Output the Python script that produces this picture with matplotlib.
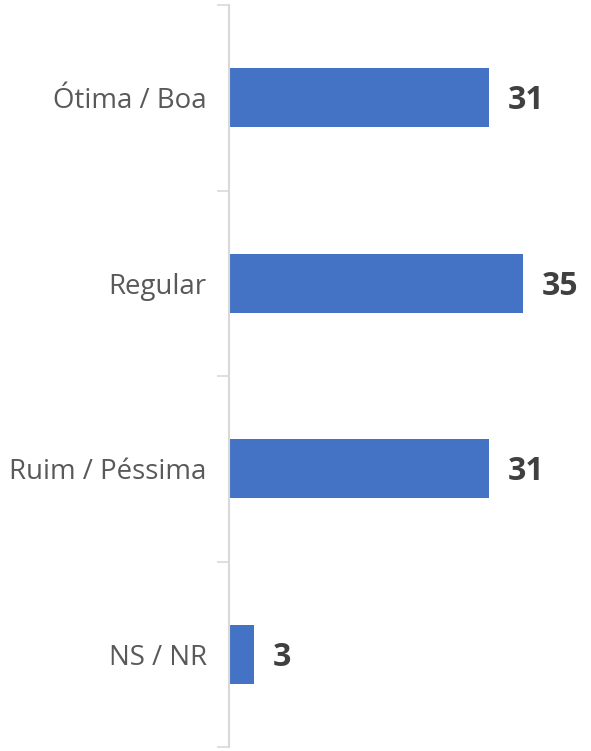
"""Horizontal bar chart of evaluation shares"""

import numpy as np
from matplotlib import pyplot as plt
from matplotlib.ticker import FixedLocator

categories = ['Ótima / Boa', 'Regular', 'Ruim / Péssima', 'NS / NR']
values = [31, 35, 31, 3]

plt.rcParams['font.family'] = ['Open Sans', 'DejaVu Sans']

fig = plt.figure(figsize=(5.91, 7.51), dpi=100)
ax = fig.add_axes([229 / 591, 4 / 751, 336 / 591, 742 / 751])

y = np.arange(len(categories))
ax.barh(y, values, height=0.32, color='#4472C4', zorder=2)

for yi, v in zip(y, values):
    ax.text(v + 2.2, yi + 0.015, str(v), va='center', ha='left', fontsize=23,
            fontweight='bold', color='#404040')

ax.set_xlim(0, 40)
ax.set_ylim(len(categories) - 0.5, -0.5)

# category boundaries get the small tick marks, labels sit in between
ax.yaxis.set_major_locator(FixedLocator(np.arange(-0.5, len(categories), 1.0)))
ax.yaxis.set_minor_locator(FixedLocator(y))
ax.set_yticklabels([], minor=False)
ax.set_yticklabels(categories, minor=True)
ax.tick_params(axis='y', which='major', length=9, width=1.2, color='#D9D9D9')
ax.tick_params(axis='y', which='minor', length=0, pad=16, labelsize=19.9,
               labelcolor='#595959')
ax.set_xticks([])

for s in ('top', 'right', 'bottom'):
    ax.spines[s].set_visible(False)
ax.spines['left'].set_color('#D9D9D9')
ax.spines['left'].set_linewidth(1.5)

plt.savefig('out.png', dpi=100)
